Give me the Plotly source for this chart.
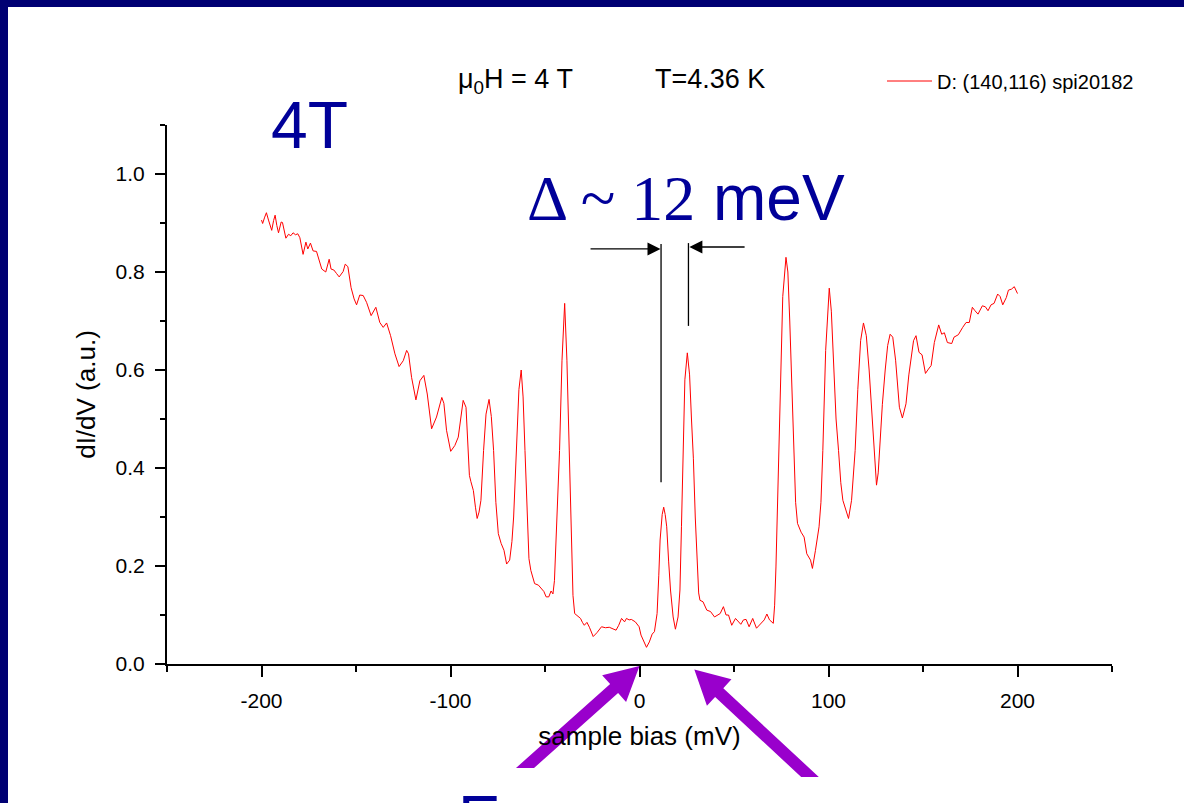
import numpy as np
import plotly.graph_objects as go

# ---------------------------------------------------------------------------
# Tunneling spectrum dI/dV vs sample bias, mu0H = 4 T, T = 4.36 K
# ---------------------------------------------------------------------------
BIAS_MV = [
    -200.0, -199.4, -198.3, -197.4, -196.3, -195.5, -194.6, -193.6, -192.8, -191.9,
    -191.0, -189.6, -188.9, -187.1, -185.7, -184.5, -183.3, -182.0, -180.8, -179.7,
    -178.0, -176.5, -175.5, -174.1, -172.7, -170.9, -169.5, -168.1, -166.0, -164.2,
    -163.2, -161.7, -160.3, -158.9, -156.8, -155.7, -154.3, -152.6, -151.0, -149.7,
    -148.0, -146.2, -144.4, -142.0, -139.5, -137.4, -135.6, -133.8, -131.7, -129.4,
    -127.2, -125.0, -123.2, -122.2, -120.6, -118.3, -116.2, -114.1, -112.3, -110.0,
    -107.4, -104.6, -103.5, -102.1, -99.9, -97.7, -95.9, -94.5, -93.3, -91.8,
    -91.0, -90.0, -89.2, -87.9, -86.8, -85.9, -84.9, -83.9, -82.5, -81.2,
    -79.6, -78.4, -77.2, -76.0, -74.7, -73.2, -71.7, -70.3, -68.7, -67.5,
    -66.6, -65.0, -63.8, -62.6, -61.6, -60.6, -59.5, -58.5, -57.5, -56.5,
    -55.5, -53.5, -52.1, -50.6, -49.4, -48.0, -46.8, -45.8, -45.0, -44.4,
    -43.3, -42.3, -41.0, -39.6, -38.4, -37.3, -36.2, -35.2, -34.3, -32.6,
    -31.2, -30.2, -29.2, -27.8, -26.5, -24.5, -22.5, -20.1, -18.0, -16.0,
    -14.0, -12.4, -11.0, -9.5, -7.9, -6.9, -5.5, -4.3, -2.2, -0.2,
    0.8, 2.2, 3.7, 5.2, 6.7, 7.9, 9.3, 10.2, 10.9, 12.0,
    12.8, 13.6, 14.4, 15.4, 16.4, 17.8, 19.0, 20.4, 21.4, 22.2,
    22.9, 24.0, 25.3, 26.5, 27.5, 28.5, 29.5, 30.5, 31.3, 32.0,
    33.6, 35.6, 37.6, 39.7, 41.2, 42.7, 44.4, 45.8, 47.1, 48.8,
    50.8, 52.2, 53.6, 55.0, 56.4, 58.0, 59.9, 61.9, 64.3, 66.0,
    67.4, 68.8, 70.8, 71.5, 72.2, 73.0, 73.7, 74.7, 75.8, 77.5,
    78.5, 79.5, 80.6, 81.6, 82.6, 83.6, 85.5, 87.1, 88.5, 90.5,
    91.5, 93.1, 95.0, 96.0, 97.0, 98.5, 100.4, 101.5, 102.8, 104.0,
    105.3, 106.5, 107.6, 109.2, 110.6, 112.2, 114.1, 115.5, 117.0, 118.5,
    120.0, 121.5, 123.0, 124.0, 125.4, 126.3, 127.0, 128.5, 130.0, 131.3,
    132.6, 134.0, 135.5, 136.5, 137.5, 139.1, 141.0, 142.5, 143.7, 145.0,
    146.3, 147.9, 149.5, 151.3, 152.9, 154.3, 156.0, 158.3, 159.9, 161.3,
    162.9, 165.2, 166.4, 168.7, 171.0, 172.8, 174.5, 176.1, 177.5, 179.1,
    181.4, 183.0, 184.4, 186.0, 187.6, 189.5, 190.8, 192.2, 194.1, 195.2,
    196.8, 198.3, 200.0,
]

DIDV = [
    0.906, 0.899, 0.912, 0.921, 0.906, 0.895, 0.885, 0.905, 0.916, 0.895,
    0.880, 0.902, 0.901, 0.869, 0.877, 0.874, 0.880, 0.876, 0.878, 0.870,
    0.836, 0.861, 0.847, 0.859, 0.843, 0.842, 0.823, 0.806, 0.800, 0.826,
    0.806, 0.804, 0.797, 0.790, 0.801, 0.816, 0.811, 0.768, 0.745, 0.733,
    0.753, 0.752, 0.738, 0.711, 0.728, 0.697, 0.687, 0.696, 0.670, 0.633,
    0.607, 0.619, 0.640, 0.633, 0.585, 0.539, 0.578, 0.589, 0.551, 0.480,
    0.504, 0.544, 0.532, 0.477, 0.434, 0.446, 0.463, 0.510, 0.538, 0.524,
    0.450, 0.385, 0.372, 0.354, 0.320, 0.297, 0.310, 0.334, 0.436, 0.510,
    0.540, 0.505, 0.436, 0.330, 0.266, 0.246, 0.232, 0.204, 0.212, 0.250,
    0.300, 0.436, 0.560, 0.600, 0.545, 0.436, 0.300, 0.215, 0.191, 0.175,
    0.164, 0.161, 0.154, 0.148, 0.137, 0.137, 0.149, 0.143, 0.170, 0.232,
    0.330, 0.436, 0.620, 0.736, 0.620, 0.436, 0.250, 0.140, 0.103, 0.098,
    0.093, 0.085, 0.079, 0.085, 0.075, 0.056, 0.064, 0.076, 0.074, 0.075,
    0.072, 0.069, 0.079, 0.093, 0.086, 0.093, 0.090, 0.091, 0.086, 0.076,
    0.059, 0.045, 0.034, 0.045, 0.061, 0.066, 0.103, 0.180, 0.253, 0.305,
    0.320, 0.305, 0.280, 0.210, 0.151, 0.096, 0.071, 0.096, 0.151, 0.280,
    0.420, 0.580, 0.635, 0.590, 0.500, 0.420, 0.300, 0.200, 0.145, 0.130,
    0.127, 0.110, 0.107, 0.096, 0.100, 0.103, 0.117, 0.100, 0.100, 0.079,
    0.093, 0.088, 0.081, 0.090, 0.091, 0.076, 0.093, 0.073, 0.083, 0.090,
    0.102, 0.090, 0.083, 0.120, 0.198, 0.310, 0.436, 0.600, 0.750, 0.830,
    0.800, 0.700, 0.550, 0.436, 0.330, 0.287, 0.269, 0.259, 0.225, 0.212,
    0.195, 0.232, 0.280, 0.330, 0.436, 0.640, 0.767, 0.720, 0.600, 0.500,
    0.436, 0.370, 0.334, 0.314, 0.297, 0.334, 0.436, 0.560, 0.660, 0.696,
    0.670, 0.600, 0.500, 0.436, 0.365, 0.390, 0.436, 0.530, 0.600, 0.650,
    0.673, 0.667, 0.620, 0.570, 0.524, 0.502, 0.531, 0.590, 0.629, 0.660,
    0.670, 0.636, 0.631, 0.593, 0.602, 0.609, 0.656, 0.692, 0.673, 0.676,
    0.656, 0.654, 0.667, 0.672, 0.687, 0.697, 0.697, 0.728, 0.721, 0.714,
    0.731, 0.729, 0.721, 0.733, 0.736, 0.755, 0.750, 0.733, 0.748, 0.763,
    0.765, 0.770, 0.756,
]

X_TICK_VALUES = [-200, -100, 0, 100, 200]
X_TICK_LABELS = ["-200", "-100", "0", "100", "200"]
X_MINOR_VALUES = [-250, -150, -50, 50, 150, 250]
Y_TICK_VALUES = [0.0, 0.2, 0.4, 0.6, 0.8, 1.0]
Y_MINOR_VALUES = [0.1, 0.3, 0.5, 0.7, 0.9, 1.1]

TRACE_NAME = "D: (140,116) spi20182"

# gap markers: the two coherence-peak positions (mV)
GAP_EDGE_LEFT_MV = 11.4
GAP_EDGE_RIGHT_MV = 25.9

# ---------------------------------------------------------------------------
# Page geometry (pixels) and coordinate helpers
# ---------------------------------------------------------------------------
FIG_W, FIG_H = 1184, 803
ML, MR, MT, MB = 167, 72, 125, 139
PW = FIG_W - ML - MR
PH = FIG_H - MT - MB
X_RANGE = (-250, 250)
Y_RANGE = (0.0, 1.1)

SANS = "Liberation Sans, Arial, sans-serif"
SERIF = "Liberation Serif, Times New Roman, serif"
NAVY = "#000073"
TEXT_BLUE = "#000099"
PURPLE = "#9900cc"


def paper_x(px):
    return (px - ML) / PW


def paper_y(py):
    return (FIG_H - MB - py) / PH


def data_px_x(x):
    return ML + (x - X_RANGE[0]) / (X_RANGE[1] - X_RANGE[0]) * PW


def data_px_y(y):
    return FIG_H - MB - (y - Y_RANGE[0]) / (Y_RANGE[1] - Y_RANGE[0]) * PH


def text_top(baseline_px, size):
    # annotation box top for a given text baseline (ascent + border padding)
    return baseline_px - 0.905 * size - 2


def block_arrow(tip, tail, shaft_half=6.0, head_len=34.0, head_half=18.0):
    """Thick arrow polygon whose tail is cut horizontally at tail[1]."""
    tip = np.asarray(tip, float)
    tail = np.asarray(tail, float)
    u = (tip - tail) / np.linalg.norm(tip - tail)
    n = np.array([-u[1], u[0]])
    base = tip - u * head_len

    def to_cut(p):
        t = (tail[1] - p[1]) / u[1]
        return p + u * t

    s_l, s_r = base + n * shaft_half, base - n * shaft_half
    pts = [to_cut(s_l), s_l, base + n * head_half, tip,
           base - n * head_half, s_r, to_cut(s_r)]
    path = "M " + " L ".join(f"{paper_x(p[0]):.5f},{paper_y(p[1]):.5f}" for p in pts)
    return path + " Z"


# ---------------------------------------------------------------------------
fig = go.Figure()

fig.add_trace(go.Scatter(
    x=BIAS_MV, y=DIDV, mode="lines", name=TRACE_NAME,
    line=dict(color="#ff0000", width=1),
))

axis_common = dict(
    showline=True, linecolor="black", linewidth=2,
    ticks="outside", tickcolor="black", tickwidth=2,
    showgrid=False, zeroline=False, automargin=False,
    tickfont=dict(family=SANS, size=21, color="black"),
)

fig.update_layout(
    width=FIG_W, height=FIG_H,
    margin=dict(l=ML, r=MR, t=MT, b=MB, pad=0),
    paper_bgcolor="white", plot_bgcolor="white",
    font=dict(family=SANS, color="black"),
    showlegend=True,
    legend=dict(
        x=paper_x(882), y=paper_y(81), xanchor="left", yanchor="middle",
        font=dict(family=SANS, size=20, color="black"),
        bgcolor="rgba(0,0,0,0)", borderwidth=0, itemwidth=45,
    ),
    xaxis=dict(
        range=list(X_RANGE),
        tickmode="array", tickvals=X_TICK_VALUES, ticktext=X_TICK_LABELS,
        ticklen=11, ticklabelstandoff=6,
        minor=dict(tickmode="array", tickvals=X_MINOR_VALUES, ticks="outside",
                   ticklen=6, tickwidth=2, tickcolor="black"),
        title=dict(text="sample bias (mV)", standoff=16,
                   font=dict(family=SANS, size=26, color="black")),
        **axis_common,
    ),
    yaxis=dict(
        range=list(Y_RANGE),
        tickmode="array", tickvals=Y_TICK_VALUES,
        ticktext=[f"{v:.1f}" for v in Y_TICK_VALUES],
        ticklen=10, ticklabelstandoff=6,
        minor=dict(tickmode="array", tickvals=Y_MINOR_VALUES, ticks="outside",
                   ticklen=5, tickwidth=2, tickcolor="black"),
        title=dict(text="dI/dV (a.u.)", standoff=12,
                   font=dict(family=SANS, size=26, color="black")),
        **axis_common,
    ),
)

# slide frame (navy bands along the top and the left edge)
fig.add_shape(type="rect", xref="paper", yref="paper", layer="below",
              x0=paper_x(-5), x1=paper_x(FIG_W + 5), y0=paper_y(7), y1=paper_y(-5),
              fillcolor=NAVY, line_width=0)
fig.add_shape(type="rect", xref="paper", yref="paper", layer="below",
              x0=paper_x(-5), x1=paper_x(8), y0=paper_y(FIG_H + 5), y1=paper_y(-5),
              fillcolor=NAVY, line_width=0)

# field / temperature header
fig.add_annotation(text="\u03bc<sub>0</sub>H = 4 T", xref="paper", yref="paper",
                   x=paper_x(456), y=paper_y(text_top(88, 27)),
                   xanchor="left", yanchor="top", showarrow=False,
                   font=dict(family=SANS, size=27, color="black"))
fig.add_annotation(text="T=4.36 K", xref="paper", yref="paper",
                   x=paper_x(653), y=paper_y(text_top(88, 27)),
                   xanchor="left", yanchor="top", showarrow=False,
                   font=dict(family=SANS, size=27, color="black"))

# big slide labels
fig.add_annotation(text="4T", xref="paper", yref="paper",
                   x=paper_x(269), y=paper_y(text_top(148, 66)),
                   xanchor="left", yanchor="top", showarrow=False,
                   font=dict(family=SANS, size=66, color=TEXT_BLUE))
fig.add_annotation(
    text=(f"<span style='font-family:{SERIF}'>\u0394 ~ 12</span>"
          f"<span style='font-family:{SANS}'> meV</span>"),
    xref="paper", yref="paper",
    x=paper_x(525), y=paper_y(text_top(220, 64)),
    xanchor="left", yanchor="top", showarrow=False,
    font=dict(family=SANS, size=64, color=TEXT_BLUE))
fig.add_annotation(text="E", xref="paper", yref="paper",
                   x=paper_x(456), y=paper_y(text_top(841, 64)),
                   xanchor="left", yanchor="top", showarrow=False,
                   font=dict(family=SANS, size=64, color=TEXT_BLUE))

# gap bracket: vertical markers at the two peaks with inward arrows
fig.add_shape(type="line", xref="x", yref="y",
              x0=GAP_EDGE_LEFT_MV, x1=GAP_EDGE_LEFT_MV, y0=0.857, y1=0.371,
              line=dict(color="black", width=1.3))
fig.add_shape(type="line", xref="x", yref="y",
              x0=GAP_EDGE_RIGHT_MV, x1=GAP_EDGE_RIGHT_MV, y0=0.859, y1=0.690,
              line=dict(color="black", width=1.3))
fig.add_annotation(x=GAP_EDGE_LEFT_MV - 0.3, y=0.847, ax=-26.7, ay=0.847,
                   xref="x", yref="y", axref="x", ayref="y", text="",
                   showarrow=True, arrowhead=2, arrowsize=2.0, arrowwidth=1.3,
                   arrowcolor="black")
fig.add_annotation(x=GAP_EDGE_RIGHT_MV + 0.5, y=0.851, ax=56.4, ay=0.851,
                   xref="x", yref="y", axref="x", ayref="y", text="",
                   showarrow=True, arrowhead=2, arrowsize=2.0, arrowwidth=1.3,
                   arrowcolor="black")

# purple pointers to zero bias and to the gap edge
fig.add_shape(type="path", xref="paper", yref="paper", layer="above",
              path=block_arrow((data_px_x(0.0), data_px_y(-0.004)), (525, 768)),
              fillcolor=PURPLE, line_width=0)
fig.add_shape(type="path", xref="paper", yref="paper", layer="above",
              path=block_arrow((data_px_x(29.0), data_px_y(-0.011)), (810, 777)),
              fillcolor=PURPLE, line_width=0)

fig.write_html("out.html")
